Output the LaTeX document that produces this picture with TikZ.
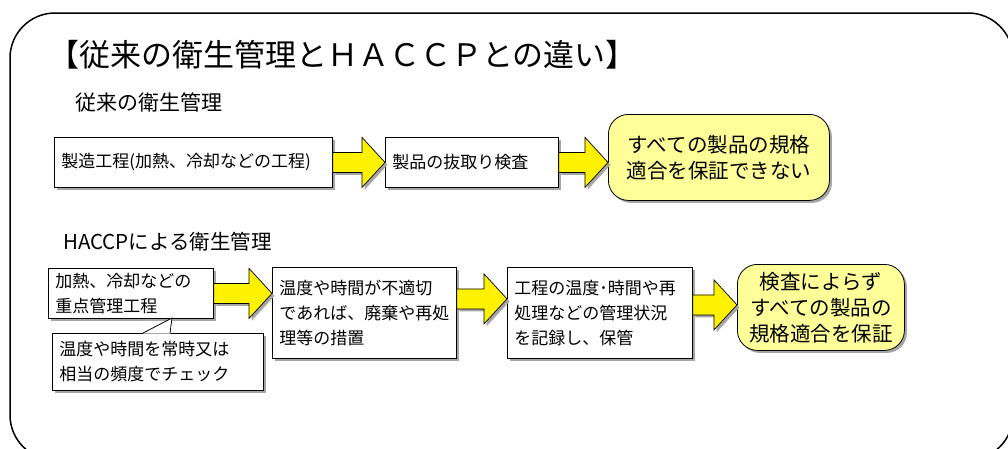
\documentclass[tikz,border=0pt]{standalone}
\usepackage{fontspec}
\setmainfont{Noto Sans CJK JP}
\usetikzlibrary{calc,shadows}
\definecolor{goalyellow}{HTML}{FFFF99}
\tikzset{
  boxshadow/.style={general shadow={fill=black!35, shadow xshift=2.5pt, shadow yshift=-2.5pt}},
  frame/.style={line width=1.5pt, rounded corners=45pt},
  procbox/.style={draw, line width=0.8pt, fill=white, anchor=north west, inner xsep=7pt, inner ysep=0pt,
    align=left, font=\fontsize{17pt}{25pt}\selectfont, boxshadow},
  goalbox/.style={draw, line width=0.8pt, fill=goalyellow, rounded corners=20pt, anchor=north west,
    align=center, inner sep=0pt, font=\fontsize{20.5pt}{26pt}\selectfont, boxshadow},
  yarrow/.style={fill=yellow, draw=black, line width=0.7pt, boxshadow,
    to path={let \p1=(\tikztostart), \p2=(\tikztotarget) in
      (\x1,\y1+10pt) -- (\x2-23pt,\y1+10pt) -- (\x2-23pt,\y1+25pt) -- (\x2,\y1)
      -- (\x2-23pt,\y1-25pt) -- (\x2-23pt,\y1-10pt) -- (\x1,\y1-10pt) -- cycle}},
}
\begin{document}
\begin{tikzpicture}[x=1pt,y=-1pt]
  \useasboundingbox (0,0) rectangle (1008,448);
  \clip (0,0) rectangle (1008,448);
  \draw[frame] (10,13) rectangle (1013,460);

  % headings
  \node[anchor=west, inner sep=0pt, font=\fontsize{31pt}{36pt}\selectfont] (title) at (48,55) {【従来の衛生管理とＨＡＣＣＰとの違い】};
  \node[anchor=west, inner sep=0pt, font=\fontsize{21pt}{24pt}\selectfont] (oldhead) at (75,103) {従来の衛生管理};
  \node[anchor=west, inner sep=0pt, font=\fontsize{20.5pt}{24pt}\selectfont] (hacchead) at (63,242) {HACCPによる衛生管理};

  % conventional
  \node[procbox, text width=264pt, minimum height=50pt] (make) at (54,137) {製造工程(加熱、冷却などの工程)};
  \node[procbox, text width=159pt, minimum height=50pt] (sample) at (385,137) {製品の抜取り検査};
  \node[goalbox, minimum width=221pt, minimum height=86pt] (nogood) at (608,114) {すべての製品の規格\\適合を保証できない};
  \draw[yarrow] (make.east) to (sample.west);
  \draw[yarrow] (sample.east) to (nogood.west);

  % HACCP
  \node[procbox, text width=151pt, minimum height=50pt] (ccp) at (48,268) {加熱、冷却などの\\重点管理工程};
  \node[procbox, text width=197pt, minimum height=57pt] (check) at (52,333) {温度や時間を常時又は\\相当の頻度でチェック};
  \fill[white] (143,333.6) -- (172,318.4) -- (170.5,333.6) -- cycle;
  \draw[line width=0.8pt] (143,333) -- (172,318) -- (170,333);
  \node[procbox, text width=170pt, minimum height=91pt] (fix) at (272,267) {温度や時間が不適切\\であれば、廃棄や再処\\理等の措置};
  \node[procbox, text width=171pt, minimum height=91pt] (record) at (507,267) {工程の温度･時間や再\\処理などの管理状況\\を記録し、保管};
  \node[goalbox, minimum width=167pt, minimum height=86pt] (good) at (737,264) {検査によらず\\すべての製品の\\規格適合を保証};
  \draw[yarrow] (ccp.east) to (fix.west);
  \draw[yarrow] ([yshift=14pt]fix.east) to (record.west);
  \draw[yarrow] ([yshift=8pt]record.east) to (good.west);
\end{tikzpicture}
\end{document}
